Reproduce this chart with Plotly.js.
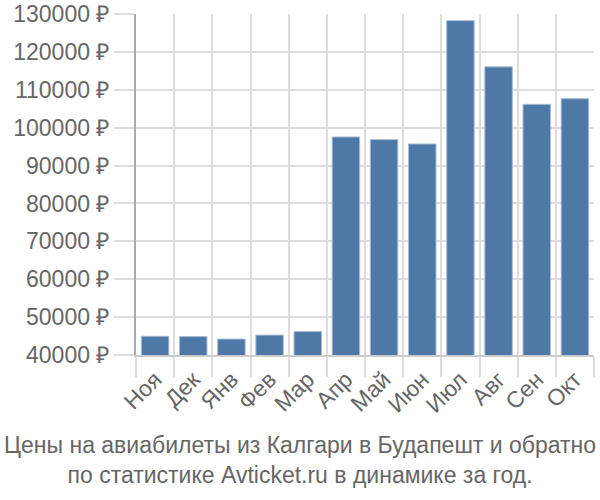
<!DOCTYPE html>
<html>
<head>
<meta charset="utf-8">
<script src="https://cdn.plot.ly/plotly-3.0.1.min.js"></script>
<style>html,body{margin:0;padding:0;background:#fff;}#chart{width:600px;height:500px;}</style>
</head>
<body>
<div id="chart"></div>
<script>
const months = ["Ноя","Дек","Янв","Фев","Мар","Апр","Май","Июн","Июл","Авг","Сен","Окт"];
const prices = [44950,44850,44200,45250,46200,97550,96850,95700,128250,116050,106150,107650];
const yTicks = [40000,50000,60000,70000,80000,90000,100000,110000,120000,130000];
const yTickLabels = yTicks.map(v => v + " ₽");
const titleLines = ["Цены на авиабилеты из Калгари в Будапешт и обратно","по статистике Avticket.ru в динамике за год."];

const font = {family: "Liberation Sans, Arial, sans-serif", size: 23, color: "#666"};

Plotly.newPlot("chart", [{
  type: "bar",
  x: months,
  y: prices,
  marker: {color: "#4e79a7", line: {color: "#a9bcd6", width: 1}},
  hoverinfo: "none"
}], {
  width: 600, height: 500,
  margin: {l: 136, r: 6, t: 14, b: 145},
  paper_bgcolor: "#fff", plot_bgcolor: "#fff",
  bargap: 0.28,
  font: font,
  showlegend: false,
  xaxis: {
    tickangle: -45,
    tickson: "boundaries",
    ticks: "outside", ticklen: 20, tickcolor: "#ddd", tickwidth: 2,
    showgrid: true, gridcolor: "#ddd", gridwidth: 2,
    showline: true, linecolor: "#ccc", linewidth: 2,
    tickfont: font,
    fixedrange: true
  },
  yaxis: {
    range: [40000, 130000],
    tickvals: yTicks,
    ticktext: yTickLabels,
    ticks: "outside", ticklen: 20, tickcolor: "#ddd", tickwidth: 2,
    showgrid: true, gridcolor: "#ddd", gridwidth: 2,
    showline: true, linecolor: "#aaa", linewidth: 2,
    zeroline: false,
    tickfont: font,
    fixedrange: true
  },
  annotations: [{
    xref: "paper", yref: "paper",
    x: 0.5, xanchor: "center",
    y: 0,
    text: titleLines.join("<br>"),
    showarrow: false,
    font: font
  }]
}, {staticPlot: true});

const plotH = 500 - 14 - 145;
const titleCenterPx = 460;
Plotly.relayout("chart", {"annotations[0].y": (500 - 145 - titleCenterPx) / plotH, "annotations[0].yanchor": "middle", "annotations[0].x": (300 - 136) / (600 - 136 - 6)});
</script>
</body>
</html>
